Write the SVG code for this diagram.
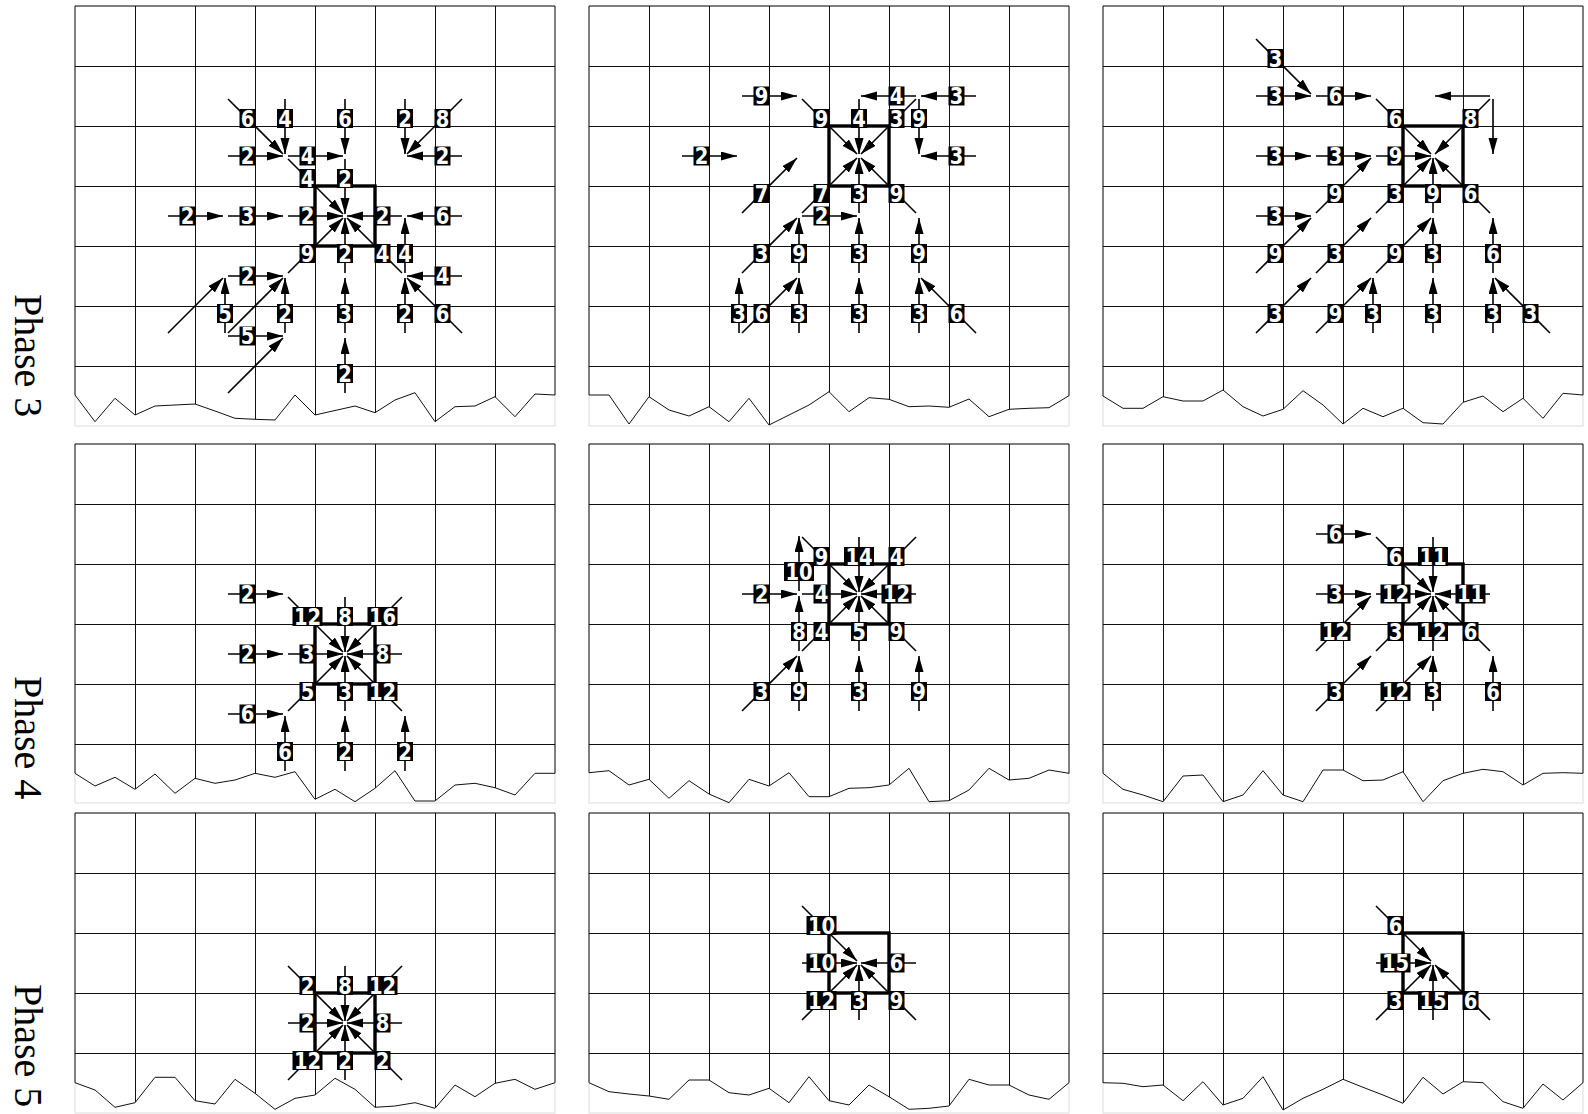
<svg xmlns="http://www.w3.org/2000/svg" xmlns:xlink="http://www.w3.org/1999/xlink" width="1588" height="1114" viewBox="0 0 1588 1114">
<style>
.fr{fill:none;stroke:#dcdcdc;stroke-width:1}
.gr{fill:none;stroke:#111;stroke-width:1;shape-rendering:crispEdges}
.ol{fill:none;stroke:#111;stroke-width:1}
.box{fill:none;stroke:#000;stroke-width:3.4}
.a line{stroke:#000;stroke-width:1.6;marker-end:url(#ah)}
.lb rect{fill:#000}
.lb text{fill:#fff;font-family:"DejaVu Sans",sans-serif;font-weight:bold;font-size:23px;text-anchor:middle;transform:scale(0.85,1)}
.ph{font-family:"Liberation Serif",serif;font-size:40px;fill:#000}
</style>
<defs>
<marker id="ah" markerUnits="userSpaceOnUse" markerWidth="17" markerHeight="10" refX="16" refY="4.5" orient="auto"><path d="M0,0 L16,4.5 L0,9 Z" fill="#000"/></marker>
<path id="g6" d="M60,0V440M120,0V440M180,0V440M240,0V440M300,0V440M360,0V440M420,0V440M0,60H480M0,120H480M0,180H480M0,240H480M0,300H480M0,360H480"/>
<path id="g5" d="M60,0V380M120,0V380M180,0V380M240,0V380M300,0V380M360,0V380M420,0V380M0,60H480M0,120H480M0,180H480M0,240H480M0,300H480"/>
<path id="g4" d="M60,0V320M120,0V320M180,0V320M240,0V320M300,0V320M360,0V320M420,0V320M0,60H480M0,120H480M0,180H480M0,240H480"/>
<path id="o1" d="M75,6L75,395 95,421.7 115,398.3 135,415 155,406 175,405 195,404 215,411 235,418.3 255,419.3 275,420 295,395 315,415 335,410.5 355,406 375,412.7 395,400 415,392.7 435,421.7 455,406.7 475,406 495,396.7 515,416.7 535,394 555,395 555,6Z"/>
<path id="o2" d="M589,6L589,395 609,395 629,424 649,396.7 669,410 689,416 709,406.7 729,421.7 749,398.3 769,425 789,415 809,405 829,391.7 849,411.7 869,397.7 889,399.3 909,406.7 929,406 949,407.3 969,399 989,416.7 1009,409.3 1029,408.3 1049,407.7 1069,395.7 1069,6Z"/>
<path id="o3" d="M1103,6L1103,396 1123,408.3 1143,408.3 1163,396.7 1183,401 1203,401 1223,390 1243,406.7 1263,416 1283,409.3 1303,390.7 1323,405 1343,424 1363,408.3 1383,416.7 1403,408.3 1423,422.7 1443,424 1463,402.3 1483,396 1503,411.7 1523,398.3 1543,418.3 1563,393.3 1583,395 1583,6Z"/>
<path id="o4" d="M75,444L75,773.3 95,786 115,777.3 135,789.3 155,774 175,793.3 195,778.3 215,783.3 235,780 255,773.3 275,777.3 295,771.7 315,799.3 335,789.3 355,801.7 375,788.3 395,770.7 415,801 435,801 455,785 475,783.3 495,787.7 515,795 535,773.3 555,773.3 555,444Z"/>
<path id="o5" d="M589,444L589,772.7 609,770.7 629,785 649,779.3 669,798.3 689,780.7 709,794 729,802.7 749,779.3 769,786 789,772.7 809,796.7 829,796.7 849,788.3 869,787.7 889,785 909,768.3 929,801.7 949,800.7 969,790 989,768.3 1009,780 1029,778.3 1049,770 1069,773.3 1069,444Z"/>
<path id="o6" d="M1103,444L1103,773.3 1123,789.3 1143,795 1163,801.7 1183,776 1203,775 1223,801.7 1243,795 1263,770.7 1283,795 1303,801.7 1323,770 1343,770 1363,780.7 1383,780 1403,771.7 1423,801.7 1443,780.7 1463,773.3 1483,769.3 1503,771.7 1523,785 1543,773.3 1563,772.7 1583,773.3 1583,444Z"/>
<path id="o7" d="M75,813L75,1082.7 95,1090 115,1107.3 135,1102.7 155,1077.3 175,1077.3 195,1100.7 215,1104 235,1079.3 255,1093.3 275,1109.3 295,1098.3 315,1095 335,1078.3 355,1089.3 375,1107.3 395,1106 415,1102.7 435,1108.3 455,1085 475,1096.7 495,1083.3 515,1079.3 535,1089.3 555,1082.7 555,813Z"/>
<path id="o8" d="M589,813L589,1082.7 609,1091.7 629,1094 649,1096 669,1099.3 689,1080 709,1080 729,1092.7 749,1095 769,1088.3 789,1102.7 809,1076.7 829,1100.7 849,1105 869,1085 889,1096.7 909,1109.3 929,1108.3 949,1106 969,1079.3 989,1085 1009,1085 1029,1095 1049,1099.3 1069,1082.7 1069,813Z"/>
<path id="o9" d="M1103,813L1103,1082.7 1123,1083.3 1143,1086.7 1163,1085 1183,1100.7 1203,1081.7 1223,1105 1243,1098.3 1263,1076.7 1283,1110 1303,1098.3 1323,1089.3 1343,1079.3 1363,1087.3 1383,1095 1403,1103.3 1423,1077.3 1443,1094 1463,1081.7 1483,1082.7 1503,1101.7 1523,1108.3 1543,1084 1563,1100 1583,1082.7 1583,813Z"/>
<clipPath id="c1"><use xlink:href="#o1" href="#o1"/></clipPath>
<clipPath id="c2"><use xlink:href="#o2" href="#o2"/></clipPath>
<clipPath id="c3"><use xlink:href="#o3" href="#o3"/></clipPath>
<clipPath id="c4"><use xlink:href="#o4" href="#o4"/></clipPath>
<clipPath id="c5"><use xlink:href="#o5" href="#o5"/></clipPath>
<clipPath id="c6"><use xlink:href="#o6" href="#o6"/></clipPath>
<clipPath id="c7"><use xlink:href="#o7" href="#o7"/></clipPath>
<clipPath id="c8"><use xlink:href="#o8" href="#o8"/></clipPath>
<clipPath id="c9"><use xlink:href="#o9" href="#o9"/></clipPath>
</defs>
<rect width="1588" height="1114" fill="#fff"/>

<text class="ph" transform="translate(15,294) rotate(90)">Phase 3</text>
<text class="ph" transform="translate(15,676) rotate(90)">Phase 4</text>
<text class="ph" transform="translate(15,984) rotate(90)">Phase 5</text>

<!-- Panel 1 -->
<g id="panel1">
<rect class="fr" x="75" y="6" width="480" height="420"/>
<g clip-path="url(#c1)"><use class="gr" href="#g6" xlink:href="#g6" x="75" y="6"/></g>
<use class="ol" href="#o1" xlink:href="#o1"/>
<rect class="box" x="315" y="186" width="60" height="60"/>
<g id="panel1-connectors" class="a">
<line x1="228" y1="99" x2="283" y2="154"/><line x1="285" y1="99" x2="285" y2="154"/><line x1="228" y1="156" x2="283" y2="156"/><line x1="288" y1="156" x2="343" y2="156"/>
<line x1="345" y1="99" x2="345" y2="154"/><line x1="288" y1="159" x2="343" y2="214"/><line x1="345" y1="159" x2="345" y2="214"/><line x1="405" y1="99" x2="405" y2="154"/>
<line x1="462" y1="99" x2="407" y2="154"/><line x1="462" y1="156" x2="407" y2="156"/><line x1="168" y1="216" x2="223" y2="216"/><line x1="228" y1="216" x2="283" y2="216"/>
<line x1="288" y1="216" x2="343" y2="216"/><line x1="402" y1="216" x2="347" y2="216"/><line x1="462" y1="216" x2="407" y2="216"/><line x1="405" y1="273" x2="405" y2="218"/>
<line x1="288" y1="273" x2="343" y2="218"/><line x1="345" y1="273" x2="345" y2="218"/><line x1="402" y1="273" x2="347" y2="218"/><line x1="462" y1="276" x2="407" y2="276"/>
<line x1="405" y1="333" x2="405" y2="278"/><line x1="462" y1="333" x2="407" y2="278"/><line x1="228" y1="276" x2="283" y2="276"/><line x1="225" y1="333" x2="225" y2="278"/>
<line x1="168" y1="333" x2="223" y2="278"/><line x1="285" y1="333" x2="285" y2="278"/><line x1="228" y1="333" x2="283" y2="278"/><line x1="228" y1="336" x2="283" y2="336"/>
<line x1="228" y1="393" x2="283" y2="338"/><line x1="345" y1="333" x2="345" y2="278"/><line x1="345" y1="393" x2="345" y2="338"/>
</g>
<g id="panel1-labels">
<g class="lb" transform="translate(247.5,118.5)"><rect x="-8" y="-9.5" width="16" height="19"/><text y="8">6</text></g>
<g class="lb" transform="translate(285,118.5)"><rect x="-8" y="-9.5" width="16" height="19"/><text y="8">4</text></g>
<g class="lb" transform="translate(247.5,156)"><rect x="-8" y="-9.5" width="16" height="19"/><text y="8">2</text></g>
<g class="lb" transform="translate(307.5,156)"><rect x="-8" y="-9.5" width="16" height="19"/><text y="8">4</text></g>
<g class="lb" transform="translate(345,118.5)"><rect x="-8" y="-9.5" width="16" height="19"/><text y="8">6</text></g>
<g class="lb" transform="translate(307.5,178.5)"><rect x="-8" y="-9.5" width="16" height="19"/><text y="8">4</text></g>
<g class="lb" transform="translate(345,178.5)"><rect x="-8" y="-9.5" width="16" height="19"/><text y="8">2</text></g>
<g class="lb" transform="translate(405,118.5)"><rect x="-8" y="-9.5" width="16" height="19"/><text y="8">2</text></g>
<g class="lb" transform="translate(442.5,118.5)"><rect x="-8" y="-9.5" width="16" height="19"/><text y="8">8</text></g>
<g class="lb" transform="translate(442.5,156)"><rect x="-8" y="-9.5" width="16" height="19"/><text y="8">2</text></g>
<g class="lb" transform="translate(187.5,216)"><rect x="-8" y="-9.5" width="16" height="19"/><text y="8">2</text></g>
<g class="lb" transform="translate(247.5,216)"><rect x="-8" y="-9.5" width="16" height="19"/><text y="8">3</text></g>
<g class="lb" transform="translate(307.5,216)"><rect x="-8" y="-9.5" width="16" height="19"/><text y="8">2</text></g>
<g class="lb" transform="translate(382.5,216)"><rect x="-8" y="-9.5" width="16" height="19"/><text y="8">2</text></g>
<g class="lb" transform="translate(442.5,216)"><rect x="-8" y="-9.5" width="16" height="19"/><text y="8">6</text></g>
<g class="lb" transform="translate(405,253.5)"><rect x="-8" y="-9.5" width="16" height="19"/><text y="8">4</text></g>
<g class="lb" transform="translate(307.5,253.5)"><rect x="-8" y="-9.5" width="16" height="19"/><text y="8">9</text></g>
<g class="lb" transform="translate(345,253.5)"><rect x="-8" y="-9.5" width="16" height="19"/><text y="8">2</text></g>
<g class="lb" transform="translate(382.5,253.5)"><rect x="-8" y="-9.5" width="16" height="19"/><text y="8">4</text></g>
<g class="lb" transform="translate(442.5,276)"><rect x="-8" y="-9.5" width="16" height="19"/><text y="8">4</text></g>
<g class="lb" transform="translate(405,313.5)"><rect x="-8" y="-9.5" width="16" height="19"/><text y="8">2</text></g>
<g class="lb" transform="translate(442.5,313.5)"><rect x="-8" y="-9.5" width="16" height="19"/><text y="8">6</text></g>
<g class="lb" transform="translate(247.5,276)"><rect x="-8" y="-9.5" width="16" height="19"/><text y="8">2</text></g>
<g class="lb" transform="translate(225,313.5)"><rect x="-8" y="-9.5" width="16" height="19"/><text y="8">5</text></g>
<g class="lb" transform="translate(285,313.5)"><rect x="-8" y="-9.5" width="16" height="19"/><text y="8">2</text></g>
<g class="lb" transform="translate(247.5,336)"><rect x="-8" y="-9.5" width="16" height="19"/><text y="8">5</text></g>
<g class="lb" transform="translate(345,313.5)"><rect x="-8" y="-9.5" width="16" height="19"/><text y="8">3</text></g>
<g class="lb" transform="translate(345,373.5)"><rect x="-8" y="-9.5" width="16" height="19"/><text y="8">2</text></g>
</g>
</g>

<!-- Panel 2 -->
<g id="panel2">
<rect class="fr" x="589" y="6" width="480" height="420"/>
<g clip-path="url(#c2)"><use class="gr" href="#g6" xlink:href="#g6" x="589" y="6"/></g>
<use class="ol" href="#o2" xlink:href="#o2"/>
<rect class="box" x="829" y="126" width="60" height="60"/>
<g id="panel2-connectors" class="a">
<line x1="742" y1="96" x2="797" y2="96"/><line x1="802" y1="99" x2="857" y2="154"/><line x1="859" y1="99" x2="859" y2="154"/><line x1="916" y1="96" x2="861" y2="96"/>
<line x1="916" y1="99" x2="861" y2="154"/><line x1="976" y1="96" x2="921" y2="96"/><line x1="919" y1="99" x2="919" y2="154"/><line x1="976" y1="156" x2="921" y2="156"/>
<line x1="682" y1="156" x2="737" y2="156"/><line x1="742" y1="213" x2="797" y2="158"/><line x1="802" y1="213" x2="857" y2="158"/><line x1="859" y1="213" x2="859" y2="158"/>
<line x1="916" y1="213" x2="861" y2="158"/><line x1="802" y1="216" x2="857" y2="216"/><line x1="742" y1="273" x2="797" y2="218"/><line x1="799" y1="273" x2="799" y2="218"/>
<line x1="859" y1="273" x2="859" y2="218"/><line x1="919" y1="273" x2="919" y2="218"/><line x1="739" y1="333" x2="739" y2="278"/><line x1="742" y1="333" x2="797" y2="278"/>
<line x1="799" y1="333" x2="799" y2="278"/><line x1="859" y1="333" x2="859" y2="278"/><line x1="919" y1="333" x2="919" y2="278"/><line x1="976" y1="333" x2="921" y2="278"/>
</g>
<g id="panel2-labels">
<g class="lb" transform="translate(761.5,96)"><rect x="-8" y="-9.5" width="16" height="19"/><text y="8">9</text></g>
<g class="lb" transform="translate(821.5,118.5)"><rect x="-8" y="-9.5" width="16" height="19"/><text y="8">9</text></g>
<g class="lb" transform="translate(859,118.5)"><rect x="-8" y="-9.5" width="16" height="19"/><text y="8">4</text></g>
<g class="lb" transform="translate(896.5,96)"><rect x="-8" y="-9.5" width="16" height="19"/><text y="8">4</text></g>
<g class="lb" transform="translate(896.5,118.5)"><rect x="-8" y="-9.5" width="16" height="19"/><text y="8">3</text></g>
<g class="lb" transform="translate(956.5,96)"><rect x="-8" y="-9.5" width="16" height="19"/><text y="8">3</text></g>
<g class="lb" transform="translate(919,118.5)"><rect x="-8" y="-9.5" width="16" height="19"/><text y="8">9</text></g>
<g class="lb" transform="translate(956.5,156)"><rect x="-8" y="-9.5" width="16" height="19"/><text y="8">3</text></g>
<g class="lb" transform="translate(701.5,156)"><rect x="-8" y="-9.5" width="16" height="19"/><text y="8">2</text></g>
<g class="lb" transform="translate(761.5,193.5)"><rect x="-8" y="-9.5" width="16" height="19"/><text y="8">7</text></g>
<g class="lb" transform="translate(821.5,193.5)"><rect x="-8" y="-9.5" width="16" height="19"/><text y="8">7</text></g>
<g class="lb" transform="translate(859,193.5)"><rect x="-8" y="-9.5" width="16" height="19"/><text y="8">3</text></g>
<g class="lb" transform="translate(896.5,193.5)"><rect x="-8" y="-9.5" width="16" height="19"/><text y="8">9</text></g>
<g class="lb" transform="translate(821.5,216)"><rect x="-8" y="-9.5" width="16" height="19"/><text y="8">2</text></g>
<g class="lb" transform="translate(761.5,253.5)"><rect x="-8" y="-9.5" width="16" height="19"/><text y="8">3</text></g>
<g class="lb" transform="translate(799,253.5)"><rect x="-8" y="-9.5" width="16" height="19"/><text y="8">9</text></g>
<g class="lb" transform="translate(859,253.5)"><rect x="-8" y="-9.5" width="16" height="19"/><text y="8">3</text></g>
<g class="lb" transform="translate(919,253.5)"><rect x="-8" y="-9.5" width="16" height="19"/><text y="8">9</text></g>
<g class="lb" transform="translate(739,313.5)"><rect x="-8" y="-9.5" width="16" height="19"/><text y="8">3</text></g>
<g class="lb" transform="translate(761.5,313.5)"><rect x="-8" y="-9.5" width="16" height="19"/><text y="8">6</text></g>
<g class="lb" transform="translate(799,313.5)"><rect x="-8" y="-9.5" width="16" height="19"/><text y="8">3</text></g>
<g class="lb" transform="translate(859,313.5)"><rect x="-8" y="-9.5" width="16" height="19"/><text y="8">3</text></g>
<g class="lb" transform="translate(919,313.5)"><rect x="-8" y="-9.5" width="16" height="19"/><text y="8">3</text></g>
<g class="lb" transform="translate(956.5,313.5)"><rect x="-8" y="-9.5" width="16" height="19"/><text y="8">6</text></g>
</g>
</g>

<!-- Panel 3 -->
<g id="panel3">
<rect class="fr" x="1103" y="6" width="480" height="420"/>
<g clip-path="url(#c3)"><use class="gr" href="#g6" xlink:href="#g6" x="1103" y="6"/></g>
<use class="ol" href="#o3" xlink:href="#o3"/>
<rect class="box" x="1403" y="126" width="60" height="60"/>
<g id="panel3-connectors" class="a">
<line x1="1256" y1="39" x2="1311" y2="94"/><line x1="1256" y1="96" x2="1311" y2="96"/><line x1="1316" y1="96" x2="1371" y2="96"/><line x1="1376" y1="99" x2="1431" y2="154"/>
<line x1="1490" y1="99" x2="1435" y2="154"/><line x1="1490" y1="96" x2="1435" y2="96"/><line x1="1493" y1="99" x2="1493" y2="154"/><line x1="1256" y1="156" x2="1311" y2="156"/>
<line x1="1316" y1="156" x2="1371" y2="156"/><line x1="1376" y1="156" x2="1431" y2="156"/><line x1="1316" y1="213" x2="1371" y2="158"/><line x1="1376" y1="213" x2="1431" y2="158"/>
<line x1="1433" y1="213" x2="1433" y2="158"/><line x1="1490" y1="213" x2="1435" y2="158"/><line x1="1256" y1="216" x2="1311" y2="216"/><line x1="1256" y1="273" x2="1311" y2="218"/>
<line x1="1316" y1="273" x2="1371" y2="218"/><line x1="1376" y1="273" x2="1431" y2="218"/><line x1="1433" y1="273" x2="1433" y2="218"/><line x1="1493" y1="273" x2="1493" y2="218"/>
<line x1="1256" y1="333" x2="1311" y2="278"/><line x1="1316" y1="333" x2="1371" y2="278"/><line x1="1373" y1="333" x2="1373" y2="278"/><line x1="1433" y1="333" x2="1433" y2="278"/>
<line x1="1493" y1="333" x2="1493" y2="278"/><line x1="1550" y1="333" x2="1495" y2="278"/>
</g>
<g id="panel3-labels">
<g class="lb" transform="translate(1275.5,58.5)"><rect x="-8" y="-9.5" width="16" height="19"/><text y="8">3</text></g>
<g class="lb" transform="translate(1275.5,96)"><rect x="-8" y="-9.5" width="16" height="19"/><text y="8">3</text></g>
<g class="lb" transform="translate(1335.5,96)"><rect x="-8" y="-9.5" width="16" height="19"/><text y="8">6</text></g>
<g class="lb" transform="translate(1395.5,118.5)"><rect x="-8" y="-9.5" width="16" height="19"/><text y="8">6</text></g>
<g class="lb" transform="translate(1470.5,118.5)"><rect x="-8" y="-9.5" width="16" height="19"/><text y="8">8</text></g>
<g class="lb" transform="translate(1275.5,156)"><rect x="-8" y="-9.5" width="16" height="19"/><text y="8">3</text></g>
<g class="lb" transform="translate(1335.5,156)"><rect x="-8" y="-9.5" width="16" height="19"/><text y="8">3</text></g>
<g class="lb" transform="translate(1395.5,156)"><rect x="-8" y="-9.5" width="16" height="19"/><text y="8">9</text></g>
<g class="lb" transform="translate(1335.5,193.5)"><rect x="-8" y="-9.5" width="16" height="19"/><text y="8">9</text></g>
<g class="lb" transform="translate(1395.5,193.5)"><rect x="-8" y="-9.5" width="16" height="19"/><text y="8">3</text></g>
<g class="lb" transform="translate(1433,193.5)"><rect x="-8" y="-9.5" width="16" height="19"/><text y="8">9</text></g>
<g class="lb" transform="translate(1470.5,193.5)"><rect x="-8" y="-9.5" width="16" height="19"/><text y="8">6</text></g>
<g class="lb" transform="translate(1275.5,216)"><rect x="-8" y="-9.5" width="16" height="19"/><text y="8">3</text></g>
<g class="lb" transform="translate(1275.5,253.5)"><rect x="-8" y="-9.5" width="16" height="19"/><text y="8">9</text></g>
<g class="lb" transform="translate(1335.5,253.5)"><rect x="-8" y="-9.5" width="16" height="19"/><text y="8">3</text></g>
<g class="lb" transform="translate(1395.5,253.5)"><rect x="-8" y="-9.5" width="16" height="19"/><text y="8">9</text></g>
<g class="lb" transform="translate(1433,253.5)"><rect x="-8" y="-9.5" width="16" height="19"/><text y="8">3</text></g>
<g class="lb" transform="translate(1493,253.5)"><rect x="-8" y="-9.5" width="16" height="19"/><text y="8">6</text></g>
<g class="lb" transform="translate(1275.5,313.5)"><rect x="-8" y="-9.5" width="16" height="19"/><text y="8">3</text></g>
<g class="lb" transform="translate(1335.5,313.5)"><rect x="-8" y="-9.5" width="16" height="19"/><text y="8">9</text></g>
<g class="lb" transform="translate(1373,313.5)"><rect x="-8" y="-9.5" width="16" height="19"/><text y="8">3</text></g>
<g class="lb" transform="translate(1433,313.5)"><rect x="-8" y="-9.5" width="16" height="19"/><text y="8">3</text></g>
<g class="lb" transform="translate(1493,313.5)"><rect x="-8" y="-9.5" width="16" height="19"/><text y="8">3</text></g>
<g class="lb" transform="translate(1530.5,313.5)"><rect x="-8" y="-9.5" width="16" height="19"/><text y="8">3</text></g>
</g>
</g>

<!-- Panel 4 -->
<g id="panel4">
<rect class="fr" x="75" y="444" width="480" height="359"/>
<g clip-path="url(#c4)"><use class="gr" href="#g5" xlink:href="#g5" x="75" y="444"/></g>
<use class="ol" href="#o4" xlink:href="#o4"/>
<rect class="box" x="315" y="624" width="60" height="60"/>
<g id="panel4-connectors" class="a">
<line x1="228" y1="594" x2="283" y2="594"/><line x1="288" y1="597" x2="343" y2="652"/><line x1="345" y1="597" x2="345" y2="652"/><line x1="402" y1="597" x2="347" y2="652"/>
<line x1="228" y1="654" x2="283" y2="654"/><line x1="288" y1="654" x2="343" y2="654"/><line x1="402" y1="654" x2="347" y2="654"/><line x1="228" y1="714" x2="283" y2="714"/>
<line x1="288" y1="711" x2="343" y2="656"/><line x1="345" y1="711" x2="345" y2="656"/><line x1="402" y1="711" x2="347" y2="656"/><line x1="285" y1="771" x2="285" y2="716"/>
<line x1="345" y1="771" x2="345" y2="716"/><line x1="405" y1="771" x2="405" y2="716"/>
</g>
<g id="panel4-labels">
<g class="lb" transform="translate(247.5,594)"><rect x="-8" y="-9.5" width="16" height="19"/><text y="8">2</text></g>
<g class="lb" transform="translate(307.5,616.5)"><rect x="-15" y="-9.5" width="30" height="19"/><text y="8">12</text></g>
<g class="lb" transform="translate(345,616.5)"><rect x="-8" y="-9.5" width="16" height="19"/><text y="8">8</text></g>
<g class="lb" transform="translate(382.5,616.5)"><rect x="-15" y="-9.5" width="30" height="19"/><text y="8">16</text></g>
<g class="lb" transform="translate(247.5,654)"><rect x="-8" y="-9.5" width="16" height="19"/><text y="8">2</text></g>
<g class="lb" transform="translate(307.5,654)"><rect x="-8" y="-9.5" width="16" height="19"/><text y="8">3</text></g>
<g class="lb" transform="translate(382.5,654)"><rect x="-8" y="-9.5" width="16" height="19"/><text y="8">8</text></g>
<g class="lb" transform="translate(247.5,714)"><rect x="-8" y="-9.5" width="16" height="19"/><text y="8">6</text></g>
<g class="lb" transform="translate(307.5,691.5)"><rect x="-8" y="-9.5" width="16" height="19"/><text y="8">5</text></g>
<g class="lb" transform="translate(345,691.5)"><rect x="-8" y="-9.5" width="16" height="19"/><text y="8">3</text></g>
<g class="lb" transform="translate(382.5,691.5)"><rect x="-15" y="-9.5" width="30" height="19"/><text y="8">12</text></g>
<g class="lb" transform="translate(285,751.5)"><rect x="-8" y="-9.5" width="16" height="19"/><text y="8">6</text></g>
<g class="lb" transform="translate(345,751.5)"><rect x="-8" y="-9.5" width="16" height="19"/><text y="8">2</text></g>
<g class="lb" transform="translate(405,751.5)"><rect x="-8" y="-9.5" width="16" height="19"/><text y="8">2</text></g>
</g>
</g>

<!-- Panel 5 -->
<g id="panel5">
<rect class="fr" x="589" y="444" width="480" height="359"/>
<g clip-path="url(#c5)"><use class="gr" href="#g5" xlink:href="#g5" x="589" y="444"/></g>
<use class="ol" href="#o5" xlink:href="#o5"/>
<rect class="box" x="829" y="564" width="60" height="60"/>
<g id="panel5-connectors" class="a">
<line x1="799" y1="591" x2="799" y2="536"/><line x1="802" y1="537" x2="857" y2="592"/><line x1="859" y1="537" x2="859" y2="592"/><line x1="916" y1="537" x2="861" y2="592"/>
<line x1="742" y1="594" x2="797" y2="594"/><line x1="802" y1="594" x2="857" y2="594"/><line x1="916" y1="594" x2="861" y2="594"/><line x1="799" y1="651" x2="799" y2="596"/>
<line x1="802" y1="651" x2="857" y2="596"/><line x1="859" y1="651" x2="859" y2="596"/><line x1="916" y1="651" x2="861" y2="596"/><line x1="742" y1="711" x2="797" y2="656"/>
<line x1="799" y1="711" x2="799" y2="656"/><line x1="859" y1="711" x2="859" y2="656"/><line x1="919" y1="711" x2="919" y2="656"/>
</g>
<g id="panel5-labels">
<g class="lb" transform="translate(799,571.5)"><rect x="-15" y="-9.5" width="30" height="19"/><text y="8">10</text></g>
<g class="lb" transform="translate(821.5,556.5)"><rect x="-8" y="-9.5" width="16" height="19"/><text y="8">9</text></g>
<g class="lb" transform="translate(859,556.5)"><rect x="-15" y="-9.5" width="30" height="19"/><text y="8">14</text></g>
<g class="lb" transform="translate(896.5,556.5)"><rect x="-8" y="-9.5" width="16" height="19"/><text y="8">4</text></g>
<g class="lb" transform="translate(761.5,594)"><rect x="-8" y="-9.5" width="16" height="19"/><text y="8">2</text></g>
<g class="lb" transform="translate(821.5,594)"><rect x="-8" y="-9.5" width="16" height="19"/><text y="8">4</text></g>
<g class="lb" transform="translate(896.5,594)"><rect x="-15" y="-9.5" width="30" height="19"/><text y="8">12</text></g>
<g class="lb" transform="translate(799,631.5)"><rect x="-8" y="-9.5" width="16" height="19"/><text y="8">8</text></g>
<g class="lb" transform="translate(821.5,631.5)"><rect x="-8" y="-9.5" width="16" height="19"/><text y="8">4</text></g>
<g class="lb" transform="translate(859,631.5)"><rect x="-8" y="-9.5" width="16" height="19"/><text y="8">5</text></g>
<g class="lb" transform="translate(896.5,631.5)"><rect x="-8" y="-9.5" width="16" height="19"/><text y="8">9</text></g>
<g class="lb" transform="translate(761.5,691.5)"><rect x="-8" y="-9.5" width="16" height="19"/><text y="8">3</text></g>
<g class="lb" transform="translate(799,691.5)"><rect x="-8" y="-9.5" width="16" height="19"/><text y="8">9</text></g>
<g class="lb" transform="translate(859,691.5)"><rect x="-8" y="-9.5" width="16" height="19"/><text y="8">3</text></g>
<g class="lb" transform="translate(919,691.5)"><rect x="-8" y="-9.5" width="16" height="19"/><text y="8">9</text></g>
</g>
</g>

<!-- Panel 6 -->
<g id="panel6">
<rect class="fr" x="1103" y="444" width="480" height="359"/>
<g clip-path="url(#c6)"><use class="gr" href="#g5" xlink:href="#g5" x="1103" y="444"/></g>
<use class="ol" href="#o6" xlink:href="#o6"/>
<rect class="box" x="1403" y="564" width="60" height="60"/>
<g id="panel6-connectors" class="a">
<line x1="1316" y1="534" x2="1371" y2="534"/><line x1="1376" y1="537" x2="1431" y2="592"/><line x1="1433" y1="537" x2="1433" y2="592"/><line x1="1316" y1="594" x2="1371" y2="594"/>
<line x1="1376" y1="594" x2="1431" y2="594"/><line x1="1490" y1="594" x2="1435" y2="594"/><line x1="1316" y1="651" x2="1371" y2="596"/><line x1="1376" y1="651" x2="1431" y2="596"/>
<line x1="1433" y1="651" x2="1433" y2="596"/><line x1="1490" y1="651" x2="1435" y2="596"/><line x1="1316" y1="711" x2="1371" y2="656"/><line x1="1376" y1="711" x2="1431" y2="656"/>
<line x1="1433" y1="711" x2="1433" y2="656"/><line x1="1493" y1="711" x2="1493" y2="656"/>
</g>
<g id="panel6-labels">
<g class="lb" transform="translate(1335.5,534)"><rect x="-8" y="-9.5" width="16" height="19"/><text y="8">6</text></g>
<g class="lb" transform="translate(1395.5,556.5)"><rect x="-8" y="-9.5" width="16" height="19"/><text y="8">6</text></g>
<g class="lb" transform="translate(1433,556.5)"><rect x="-15" y="-9.5" width="30" height="19"/><text y="8">11</text></g>
<g class="lb" transform="translate(1335.5,594)"><rect x="-8" y="-9.5" width="16" height="19"/><text y="8">3</text></g>
<g class="lb" transform="translate(1395.5,594)"><rect x="-15" y="-9.5" width="30" height="19"/><text y="8">12</text></g>
<g class="lb" transform="translate(1470.5,594)"><rect x="-15" y="-9.5" width="30" height="19"/><text y="8">11</text></g>
<g class="lb" transform="translate(1335.5,631.5)"><rect x="-15" y="-9.5" width="30" height="19"/><text y="8">12</text></g>
<g class="lb" transform="translate(1395.5,631.5)"><rect x="-8" y="-9.5" width="16" height="19"/><text y="8">3</text></g>
<g class="lb" transform="translate(1433,631.5)"><rect x="-15" y="-9.5" width="30" height="19"/><text y="8">12</text></g>
<g class="lb" transform="translate(1470.5,631.5)"><rect x="-8" y="-9.5" width="16" height="19"/><text y="8">6</text></g>
<g class="lb" transform="translate(1335.5,691.5)"><rect x="-8" y="-9.5" width="16" height="19"/><text y="8">3</text></g>
<g class="lb" transform="translate(1395.5,691.5)"><rect x="-15" y="-9.5" width="30" height="19"/><text y="8">12</text></g>
<g class="lb" transform="translate(1433,691.5)"><rect x="-8" y="-9.5" width="16" height="19"/><text y="8">3</text></g>
<g class="lb" transform="translate(1493,691.5)"><rect x="-8" y="-9.5" width="16" height="19"/><text y="8">6</text></g>
</g>
</g>

<!-- Panel 7 -->
<g id="panel7">
<rect class="fr" x="75" y="813" width="480" height="300"/>
<g clip-path="url(#c7)"><use class="gr" href="#g4" xlink:href="#g4" x="75" y="813"/></g>
<use class="ol" href="#o7" xlink:href="#o7"/>
<rect class="box" x="315" y="993" width="60" height="60"/>
<g id="panel7-connectors" class="a">
<line x1="288" y1="966" x2="343" y2="1021"/><line x1="345" y1="966" x2="345" y2="1021"/><line x1="402" y1="966" x2="347" y2="1021"/><line x1="288" y1="1023" x2="343" y2="1023"/>
<line x1="402" y1="1023" x2="347" y2="1023"/><line x1="288" y1="1080" x2="343" y2="1025"/><line x1="345" y1="1080" x2="345" y2="1025"/><line x1="402" y1="1080" x2="347" y2="1025"/>
</g>
<g id="panel7-labels">
<g class="lb" transform="translate(307.5,985.5)"><rect x="-8" y="-9.5" width="16" height="19"/><text y="8">2</text></g>
<g class="lb" transform="translate(345,985.5)"><rect x="-8" y="-9.5" width="16" height="19"/><text y="8">8</text></g>
<g class="lb" transform="translate(382.5,985.5)"><rect x="-15" y="-9.5" width="30" height="19"/><text y="8">12</text></g>
<g class="lb" transform="translate(307.5,1023)"><rect x="-8" y="-9.5" width="16" height="19"/><text y="8">2</text></g>
<g class="lb" transform="translate(382.5,1023)"><rect x="-8" y="-9.5" width="16" height="19"/><text y="8">8</text></g>
<g class="lb" transform="translate(307.5,1060.5)"><rect x="-15" y="-9.5" width="30" height="19"/><text y="8">12</text></g>
<g class="lb" transform="translate(345,1060.5)"><rect x="-8" y="-9.5" width="16" height="19"/><text y="8">2</text></g>
<g class="lb" transform="translate(382.5,1060.5)"><rect x="-8" y="-9.5" width="16" height="19"/><text y="8">2</text></g>
</g>
</g>

<!-- Panel 8 -->
<g id="panel8">
<rect class="fr" x="589" y="813" width="480" height="300"/>
<g clip-path="url(#c8)"><use class="gr" href="#g4" xlink:href="#g4" x="589" y="813"/></g>
<use class="ol" href="#o8" xlink:href="#o8"/>
<rect class="box" x="829" y="933" width="60" height="60"/>
<g id="panel8-connectors" class="a">
<line x1="802" y1="906" x2="857" y2="961"/><line x1="802" y1="963" x2="857" y2="963"/><line x1="916" y1="963" x2="861" y2="963"/>
<line x1="802" y1="1020" x2="857" y2="965"/><line x1="859" y1="1020" x2="859" y2="965"/><line x1="916" y1="1020" x2="861" y2="965"/>
</g>
<g id="panel8-labels">
<g class="lb" transform="translate(821.5,925.5)"><rect x="-15" y="-9.5" width="30" height="19"/><text y="8">10</text></g>
<g class="lb" transform="translate(821.5,963)"><rect x="-15" y="-9.5" width="30" height="19"/><text y="8">10</text></g>
<g class="lb" transform="translate(896.5,963)"><rect x="-8" y="-9.5" width="16" height="19"/><text y="8">6</text></g>
<g class="lb" transform="translate(821.5,1000.5)"><rect x="-15" y="-9.5" width="30" height="19"/><text y="8">12</text></g>
<g class="lb" transform="translate(859,1000.5)"><rect x="-8" y="-9.5" width="16" height="19"/><text y="8">3</text></g>
<g class="lb" transform="translate(896.5,1000.5)"><rect x="-8" y="-9.5" width="16" height="19"/><text y="8">9</text></g>
</g>
</g>

<!-- Panel 9 -->
<g id="panel9">
<rect class="fr" x="1103" y="813" width="480" height="300"/>
<g clip-path="url(#c9)"><use class="gr" href="#g4" xlink:href="#g4" x="1103" y="813"/></g>
<use class="ol" href="#o9" xlink:href="#o9"/>
<rect class="box" x="1403" y="933" width="60" height="60"/>
<g id="panel9-connectors" class="a">
<line x1="1376" y1="906" x2="1431" y2="961"/><line x1="1376" y1="963" x2="1431" y2="963"/><line x1="1376" y1="1020" x2="1431" y2="965"/>
<line x1="1433" y1="1020" x2="1433" y2="965"/><line x1="1490" y1="1020" x2="1435" y2="965"/>
</g>
<g id="panel9-labels">
<g class="lb" transform="translate(1395.5,925.5)"><rect x="-8" y="-9.5" width="16" height="19"/><text y="8">6</text></g>
<g class="lb" transform="translate(1395.5,963)"><rect x="-15" y="-9.5" width="30" height="19"/><text y="8">15</text></g>
<g class="lb" transform="translate(1395.5,1000.5)"><rect x="-8" y="-9.5" width="16" height="19"/><text y="8">3</text></g>
<g class="lb" transform="translate(1433,1000.5)"><rect x="-15" y="-9.5" width="30" height="19"/><text y="8">15</text></g>
<g class="lb" transform="translate(1470.5,1000.5)"><rect x="-8" y="-9.5" width="16" height="19"/><text y="8">6</text></g>
</g>
</g>
</svg>
